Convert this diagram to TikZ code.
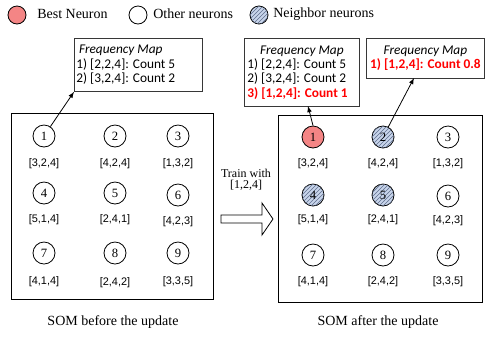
\documentclass[tikz,border=0pt]{standalone}
\usepackage{fontspec}
\setmainfont{Liberation Serif}
\newfontfamily\calfont{Carlito}
\newfontfamily\arialfont{Liberation Sans}
\usetikzlibrary{patterns}

\definecolor{bestred}{RGB}{244,133,133}
\definecolor{nbfill}{RGB}{200,213,235}
\definecolor{nbline}{RGB}{95,110,140}
\definecolor{boxgray}{RGB}{55,55,55}

\tikzset{
  neuron/.style={circle, draw, line width=0.6pt, minimum size=16.5pt, inner sep=0pt, font=\fontsize{9.5}{9.5}\selectfont},
  best/.style={neuron, fill=bestred},
  neighbor/.style={neuron, fill=nbfill, postaction={pattern=north east lines, pattern color=nbline}},
  weight/.style={font=\arialfont\fontsize{8.2}{8.2}\selectfont},
  fmap/.style={draw=boxgray, line width=0.6pt, anchor=north west, inner ysep=1pt, font=\calfont\fontsize{10}{10.8}\selectfont},
  legend/.style={circle, draw, line width=0.6pt, minimum size=13.5pt, inner sep=0pt},
  caption/.style={font=\fontsize{10.5}{12}\selectfont}
}

\begin{document}
\begin{tikzpicture}[x=0.75pt, y=-0.75pt]

    \useasboundingbox (0,0) rectangle (485,337);

    % Legend
    \node[legend, fill=bestred] (lgBest) at (17,15) {};
    \node[caption, anchor=west, inner sep=0pt] (lgBestTxt) at (37,14) {Best Neuron};
    \node[legend] (lgOther) at (138,15) {};
    \node[caption, anchor=west, inner sep=0pt] (lgOtherTxt) at (153,14) {Other neurons};
    \node[legend, fill=nbfill, postaction={pattern=north east lines, pattern color=nbline}] (lgNb) at (259,15) {};
    \node[caption, anchor=west, inner sep=0pt] (lgNbTxt) at (273,14) {Neighbor neurons};

    % SOM before the update
    \draw[line width=0.6pt] (11,113) rectangle (213,299);

    \node[neuron] (n1) at (44,136) {1};
    \node[neuron] (n2) at (115,136) {2};
    \node[neuron] (n3) at (178,136) {3};
    \node[neuron] (n4) at (44,193) {4};
    \node[neuron] (n5) at (115,193) {5};
    \node[neuron] (n6) at (178,195) {6};
    \node[neuron] (n7) at (44,253) {7};
    \node[neuron] (n8) at (115,253) {8};
    \node[neuron] (n9) at (178,253) {9};

    \node[weight] (w1) at (44,164) {[3,2,4]};
    \node[weight] (w2) at (115,164) {[4,2,4]};
    \node[weight] (w3) at (178,164) {[1,3,2]};
    \node[weight] (w4) at (44,220) {[5,1,4]};
    \node[weight] (w5) at (115,220) {[2,4,1]};
    \node[weight] (w6) at (178,222) {[4,2,3]};
    \node[weight] (w7) at (44,282) {[4,1,4]};
    \node[weight] (w8) at (115,283) {[2,4,2]};
    \node[weight] (w9) at (178,282) {[3,3,5]};

    % frequency map of neuron 1 before training
    \node[fmap, minimum width=96pt, minimum height=39.75pt, text width=93pt, inner xsep=1.5pt, align=flush left] (fmL) at (74,38)
        {\hspace*{2pt}\textit{Frequency Map}\\1) [2,2,4]: Count 5\\2) [3,2,4]: Count 2};
    \draw[-latex, line width=0.6pt] (n1) -- (fmL.south west);

    % Train arrow
    \node[font=\fontsize{9}{8}\selectfont, align=center] (train) at (246,180) {Train with\\{}[1,2,4]};
    \draw[line width=0.6pt, fill=white] (221,215) -- (262,215) -- (262,203) -- (273,219)
        -- (262,235) -- (262,223) -- (221,223) -- cycle;

    % SOM after the update
    \draw[line width=0.6pt] (278,115) rectangle (482,302);

    \node[best] (m1) at (313,137) {1};
    \node[neighbor] (m2) at (383,137) {2};
    \node[neuron] (m3) at (448,137) {3};
    \node[neighbor] (m4) at (313,195) {4};
    \node[neighbor] (m5) at (383,195) {5};
    \node[neuron] (m6) at (448,196) {6};
    \node[neuron] (m7) at (313,255) {7};
    \node[neuron] (m8) at (383,255) {8};
    \node[neuron] (m9) at (448,255) {9};

    \node[weight] (v1) at (313,164) {[3,2,4]};
    \node[weight] (v2) at (383,164) {[4,2,4]};
    \node[weight] (v3) at (448,164) {[1,3,2]};
    \node[weight] (v4) at (313,220) {[5,1,4]};
    \node[weight] (v5) at (383,220) {[2,4,1]};
    \node[weight] (v6) at (448,221) {[4,2,3]};
    \node[weight] (v7) at (313,282) {[4,1,4]};
    \node[weight] (v8) at (383,282) {[2,4,2]};
    \node[weight] (v9) at (448,282) {[3,3,5]};

    % frequency maps after training
    \node[fmap, minimum width=86.25pt, minimum height=51pt, text width=81.75pt, inner xsep=2.25pt, align=flush left] (fmA) at (244,38)
        {\makebox[\hsize]{\itshape Frequency Map}\\1) [2,2,4]: Count 5\\2) [3,2,4]: Count 2\\
         \textcolor{red}{\bfseries 3) [1,2,4]: Count 1}};
    \node[fmap, minimum width=88.5pt, minimum height=30pt, inner xsep=1pt, align=flush center] (fmB) at (366,38)
        {\textit{Frequency Map}\\\textcolor{red}{\bfseries 1) [1,2,4]: Count 0.8}};

    \coordinate (tipA) at (308,106);
    \coordinate (tipB) at (414,78);
    \draw[-latex, line width=0.6pt] (m1.north) -- (tipA);
    \draw[-latex, line width=0.6pt] (m2) -- (tipB);

    % captions
    \node[caption] (capL) at (113,322) {SOM before the update};
    \node[caption] (capR) at (378,322) {SOM after the update};

\end{tikzpicture}
\end{document}
